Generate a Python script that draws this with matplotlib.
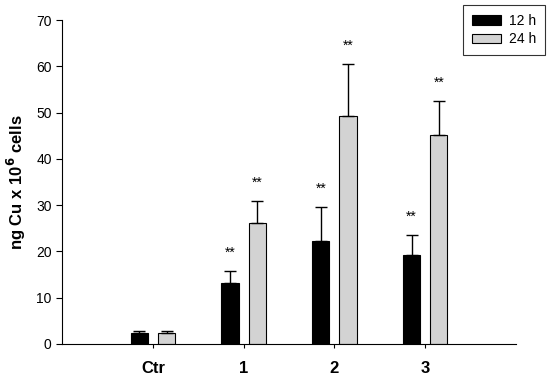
import matplotlib
matplotlib.use("Agg")
import matplotlib.pyplot as plt
import numpy as np

plt.rcParams['font.family'] = ['Liberation Sans', 'DejaVu Sans']

# data
groups = ["Ctr", "1", "2", "3"]
mean_12h = [2.3, 13.2, 22.3, 19.2]
err_12h = [0.6, 2.6, 7.4, 4.3]
mean_24h = [2.3, 26.2, 49.2, 45.2]
err_24h = [0.6, 4.7, 11.4, 7.3]
sig_12h = ["", "**", "**", "**"]
sig_24h = ["", "**", "**", "**"]

fig = plt.figure(figsize=(5.5, 3.78), dpi=100)
ax = fig.add_axes([0.113, 0.09, 0.825, 0.857])

x = np.arange(1, len(groups) + 1)
w = 0.19
off = 0.15
ax.bar(x - off, mean_12h, w, color='black', edgecolor='black', linewidth=0.8,
       yerr=[np.zeros(4), err_12h], capsize=4,
       error_kw=dict(elinewidth=1, capthick=1, ecolor='black'), label='12 h')
ax.bar(x + off, mean_24h, w, color='#d3d3d3', edgecolor='black', linewidth=0.8,
       yerr=[np.zeros(4), err_24h], capsize=4,
       error_kw=dict(elinewidth=1, capthick=1, ecolor='black'), label='24 h')

for xi, m, e, s in zip(x - off, mean_12h, err_12h, sig_12h):
    if s:
        ax.annotate(s, (xi, m + e), xytext=(0, 8), textcoords='offset points',
                    ha='center', va='bottom', fontsize=10)
for xi, m, e, s in zip(x + off, mean_24h, err_24h, sig_24h):
    if s:
        ax.annotate(s, (xi, m + e), xytext=(0, 8), textcoords='offset points',
                    ha='center', va='bottom', fontsize=10)

ax.set_xlim(0, 5)
ax.set_ylim(0, 70)
ax.set_yticks(np.arange(0, 71, 10))
ax.set_xticks(x)
ax.set_xticklabels(groups, fontsize=12, fontweight='bold')
ax.tick_params(axis='x', length=3, pad=9)
ax.tick_params(axis='y', length=4, labelsize=10)
ax.spines['top'].set_visible(False)
ax.spines['right'].set_visible(False)
ax.set_ylabel("ng Cu x 10$^\\mathbf{6}$ cells", fontsize=12, fontweight='bold', labelpad=6)

leg = ax.legend(loc='upper right', bbox_to_anchor=(0.991, 0.988), bbox_transform=fig.transFigure,
                borderaxespad=0, fancybox=False, edgecolor='black', fontsize=10, handlelength=2.1,
                handleheight=0.7, borderpad=0.65, labelspacing=0.35, handletextpad=0.55)
leg.get_frame().set_linewidth(0.8)

fig.savefig("out.png", dpi=100)
